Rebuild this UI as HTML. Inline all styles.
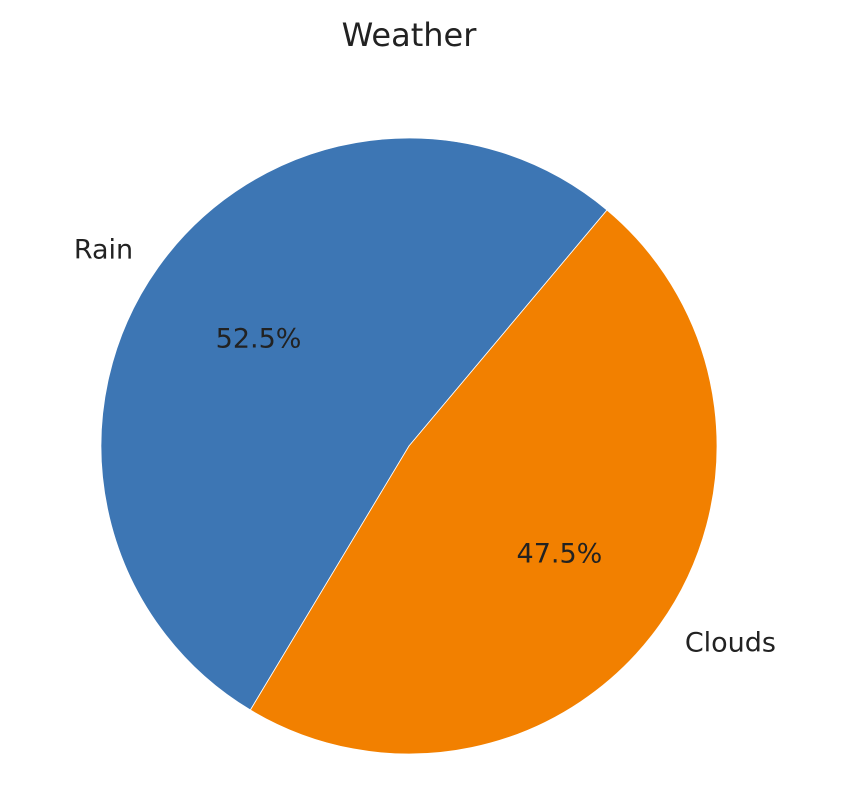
<!DOCTYPE html>
<html><head><meta charset="utf-8"><style>
html,body{margin:0;padding:0;background:#fff;}
svg{display:block;font-family:"DejaVu Sans","Liberation Sans",sans-serif;}
</style></head><body>
<svg id="chart" width="848" height="794" viewBox="0 0 848 794">
<text x="409" y="46" text-anchor="middle" font-size="32" fill="#222">Weather</text>
<g id="slices"></g>
<g id="labels"></g>
</svg>
<script>
const categories = ["Rain", "Clouds"];
const values = [52.5, 47.5];
const colors = ["#3d76b4", "#f28000"];
const startAngle = 50;
const cx = 409, cy = 446, r = 308;
const ns = "http://www.w3.org/2000/svg";
const gS = document.getElementById("slices"), gL = document.getElementById("labels");
const total = values.reduce((a,b)=>a+b,0);
function pt(deg, rad){const a=deg*Math.PI/180;return [cx+rad*Math.cos(a), cy-rad*Math.sin(a)];}
let ang = startAngle;
values.forEach((v,i)=>{
  const sweep = v/total*360;
  const a0 = ang, a1 = ang+sweep;
  const p0 = pt(a0,r), p1 = pt(a1,r);
  const large = sweep>180?1:0;
  const path = document.createElementNS(ns,"path");
  path.setAttribute("d",`M${cx},${cy} L${p0[0]},${p0[1]} A${r},${r} 0 ${large} 0 ${p1[0]},${p1[1]} Z`);
  path.setAttribute("fill",colors[i]);
  path.setAttribute("stroke","#fff");
  path.setAttribute("stroke-width","0.8");
  
  
  gS.appendChild(path);
  const mid = (a0+a1)/2;
  const lp = pt(mid, r*1.1);
  const t = document.createElementNS(ns,"text");
  t.setAttribute("x",lp[0]); t.setAttribute("y",lp[1]+9);
  t.setAttribute("font-size","27"); t.setAttribute("fill","#222");
  t.setAttribute("text-anchor", Math.cos(mid*Math.PI/180)<0?"end":"start");
  t.textContent = categories[i];
  
  
  gL.appendChild(t);
  const pp = pt(mid, r*0.6);
  const pt2 = document.createElementNS(ns,"text");
  pt2.setAttribute("x",pp[0]); pt2.setAttribute("y",pp[1]+9);
  pt2.setAttribute("font-size","27"); pt2.setAttribute("fill","#222");
  pt2.setAttribute("text-anchor","middle");
  pt2.textContent = (v/total*100).toFixed(1)+"%";
  
  
  gL.appendChild(pt2);
  ang = a1;
});
</script>
</body></html>
